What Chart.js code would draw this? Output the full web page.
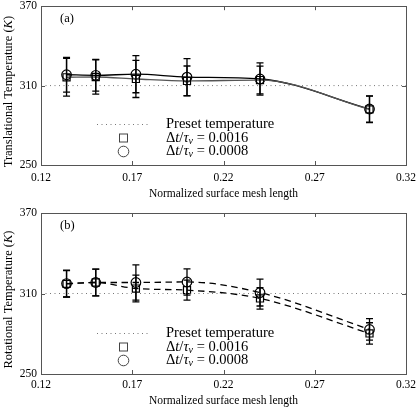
<!DOCTYPE html>
<html><head><meta charset="utf-8">
<script src="https://cdn.jsdelivr.net/npm/chart.js@4.4.1/dist/chart.umd.min.js"></script>
<style>
html,body{margin:0;padding:0;background:#fff;width:416px;height:409px;overflow:hidden}
#wa{position:absolute;left:0;top:0;width:416px;height:205px}
#wb{position:absolute;left:0;top:205px;width:416px;height:204px}
canvas{display:block}
</style></head><body>
<div id="wa"><canvas id="ca" width="416" height="205"></canvas></div>
<div id="wb"><canvas id="cb" width="416" height="204"></canvas></div>
<script>
// ---- data ----
const meshLength = [0.134, 0.15, 0.172, 0.2, 0.24, 0.3];
const presetTemperature = 310;
const xTicks = [0.12, 0.17, 0.22, 0.27, 0.32];
const yTicks = [250, 310, 370];

const transSq = [316.3, 316.5, 315.0, 313.5, 314.2, 292.0];
const transSqErr = [14.3, 13.0, 14.0, 11.3, 10.5, 10.0];
const transCi = [318.2, 317.8, 318.6, 316.4, 315.0, 292.3];
const transCiErr = [13.2, 12.0, 14.0, 14.0, 12.2, 10.0];

const rotSq = [317.2, 318.2, 313.7, 312.5, 306.3, 280.2];
const rotSqErr = [9.8, 10.0, 10.0, 7.5, 8.0, 8.0];
const rotCi = [317.4, 318.2, 318.2, 318.6, 310.7, 283.2];
const rotCiErr = [10.0, 10.0, 13.2, 9.8, 10.0, 8.0];

const legendLabels = ['Preset temperature', '0.0016', '0.0008'];

// ---- helpers ----
const SERIF = '"Liberation Serif","DejaVu Serif",serif';
const pts = (xs, ys) => xs.map((x, i) => ({x: x, y: ys[i]}));

function drawRich(ctx, x, y, parts) {
  let cx = x;
  for (const p of parts) {
    ctx.font = p[1];
    ctx.fillText(p[0], cx, y + (p[2] || 0));
    cx += ctx.measureText(p[0]).width;
  }
}

function makeChart(canvasId, cfg) {
  const lineDash = cfg.dashed ? [6.5, 4.5] : [];
  const errorSets = [
    {vals: cfg.sq, errs: cfg.sqErr},
    {vals: cfg.ci, errs: cfg.ciErr}
  ];
  const decor = {
    id: 'decor',
    afterDatasetsDraw(chart) {
      const ctx = chart.ctx, xs = chart.scales.x, ys = chart.scales.y, a = chart.chartArea;
      ctx.save();
      // error bars
      ctx.strokeStyle = '#000';
      ctx.lineWidth = 1.3;
      for (const s of errorSets) {
        s.vals.forEach((v, i) => {
          const px = xs.getPixelForValue(meshLength[i]);
          const top = ys.getPixelForValue(v + s.errs[i]);
          const bot = ys.getPixelForValue(v - s.errs[i]);
          ctx.beginPath();
          ctx.moveTo(px, top); ctx.lineTo(px, bot);
          ctx.moveTo(px - 3.5, top); ctx.lineTo(px + 3.5, top);
          ctx.moveTo(px - 3.5, bot); ctx.lineTo(px + 3.5, bot);
          ctx.stroke();
        });
      }
      // frame
      ctx.strokeStyle = '#555';
      ctx.lineWidth = 1;
      ctx.strokeRect(Math.round(a.left) + 0.5, Math.round(a.top) + 0.5,
                     Math.round(a.right - a.left), Math.round(a.bottom - a.top));
      // inward ticks
      ctx.beginPath();
      xTicks.slice(1, -1).forEach(v => {
        const px = Math.round(xs.getPixelForValue(v)) + 0.5;
        ctx.moveTo(px, a.bottom); ctx.lineTo(px, a.bottom - 4);
        ctx.moveTo(px, a.top); ctx.lineTo(px, a.top + 4);
      });
      yTicks.slice(1, -1).forEach(v => {
        const py = Math.round(ys.getPixelForValue(v)) + 0.5;
        ctx.moveTo(a.left, py); ctx.lineTo(a.left + 4, py);
        ctx.moveTo(a.right, py); ctx.lineTo(a.right - 4, py);
      });
      ctx.stroke();
      // panel label
      ctx.fillStyle = '#000';
      ctx.textBaseline = 'middle';
      ctx.textAlign = 'left';
      ctx.font = '12.5px ' + SERIF;
      ctx.fillText(cfg.panel, a.left + 19, a.top + 13);
      // y title
      ctx.save();
      ctx.translate(9, (a.top + a.bottom) / 2 + 6);
      ctx.rotate(-Math.PI / 2);
      const t1 = cfg.ytitle + ' (', t2 = 'K', t3 = ')';
      const fN = '12.5px ' + SERIF, fI = 'italic 12.5px ' + SERIF;
      ctx.font = fN; const w1 = ctx.measureText(t1).width, w3 = ctx.measureText(t3).width;
      ctx.font = fI; const w2 = ctx.measureText(t2).width;
      drawRich(ctx, -(w1 + w2 + w3) / 2, 0, [[t1, fN], [t2, fI], [t3, fN]]);
      ctx.restore();
      // legend
      const r0 = a.bottom - 40.5, r1 = a.bottom - 27, r2 = a.bottom - 13.5;
      const mx = 123.5, tx = 166;
      ctx.strokeStyle = '#777';
      ctx.lineWidth = 1;
      ctx.setLineDash([1, 3.5]);
      ctx.beginPath(); ctx.moveTo(97, r0); ctx.lineTo(148, r0); ctx.stroke();
      ctx.setLineDash([]);
      ctx.strokeStyle = '#444';
      ctx.strokeRect(mx - 4, r1 - 4, 8, 8);
      ctx.beginPath(); ctx.arc(mx, r2, 5.3, 0, Math.PI * 2); ctx.stroke();
      ctx.fillStyle = '#000';
      const fL = '14.5px ' + SERIF, fLI = 'italic 14.5px ' + SERIF, fS = 'italic 10px ' + SERIF;
      drawRich(ctx, tx, r0, [[legendLabels[0], fL]]);
      [r1, r2].forEach((ry, k) => {
        drawRich(ctx, tx, ry, [['\u0394', fL], ['t', fLI], ['/', fL], ['\u03C4', fLI], ['\u03BD', fS, 3], [' = ' + legendLabels[k + 1], fL]]);
      });
      ctx.restore();
    }
  };
  return new Chart(document.getElementById(canvasId), {
    type: 'line',
    data: {
      datasets: [
        {
          label: 'Preset temperature',
          data: [{x: xTicks[0], y: presetTemperature}, {x: xTicks[xTicks.length - 1], y: presetTemperature}],
          borderColor: '#777', borderWidth: 1, borderDash: [1, 3.5], pointRadius: 0
        },
        {
          label: '0.0016',
          data: pts(meshLength, cfg.sq),
          borderColor: cfg.dashed ? '#000' : '#555', borderWidth: 1.3, borderDash: lineDash,
          cubicInterpolationMode: 'monotone',
          pointStyle: 'rect', pointRadius: 5, pointBorderWidth: 1.2,
          pointBorderColor: '#000', pointBackgroundColor: 'rgba(0,0,0,0)'
        },
        {
          label: '0.0008',
          data: pts(meshLength, cfg.ci),
          borderColor: '#000', borderWidth: 1.3, borderDash: lineDash,
          cubicInterpolationMode: 'monotone',
          pointStyle: 'circle', pointRadius: 4.8, pointBorderWidth: 1.2,
          pointBorderColor: '#000', pointBackgroundColor: 'rgba(0,0,0,0)'
        }
      ]
    },
    options: {
      responsive: false,
      animation: false,
      events: [],
      layout: {padding: {left: 0, right: 10, top: cfg.top, bottom: 0}},
      plugins: {legend: {display: false}, tooltip: {enabled: false}},
      scales: {
        x: {
          type: 'linear', min: 0.12, max: 0.32,
          grid: {display: false, drawTicks: false},
          border: {display: false},
          afterBuildTicks: s => { s.ticks = xTicks.map(v => ({value: v})); },
          ticks: {padding: cfg.xpad, color: '#000', font: {family: SERIF, size: 11.5},
                  maxRotation: 0, autoSkip: false, callback: v => v.toFixed(2)},
          title: {display: true, text: 'Normalized surface mesh length', color: '#000',
                  font: {family: SERIF, size: 11.5}, padding: {top: 0, bottom: cfg.tpad}},
          afterFit: s => { s.height = cfg.xh; s.paddingLeft = 0; s.paddingRight = 0; }
        },
        y: {
          min: 250, max: 370,
          grid: {display: false, drawTicks: false},
          border: {display: false},
          afterBuildTicks: s => { s.ticks = yTicks.map(v => ({value: v})); },
          ticks: {padding: 4, color: '#000', font: {family: SERIF, size: 11.5}, callback: v => String(v)},
          afterFit: s => { s.width = 41; s.paddingTop = 0; s.paddingBottom = 0; }
        }
      }
    },
    plugins: [decor]
  });
}

makeChart('ca', {sq: transSq, sqErr: transSqErr, ci: transCi, ciErr: transCiErr,
  dashed: false, panel: '(a)', ytitle: 'Translational Temperature', top: 4, xh: 40, xpad: 6, tpad: 4});
makeChart('cb', {sq: rotSq, sqErr: rotSqErr, ci: rotCi, ciErr: rotCiErr,
  dashed: true, panel: '(b)', ytitle: 'Rotational Temperature', top: 8, xh: 35, xpad: 4, tpad: 1});
</script>
</body></html>
